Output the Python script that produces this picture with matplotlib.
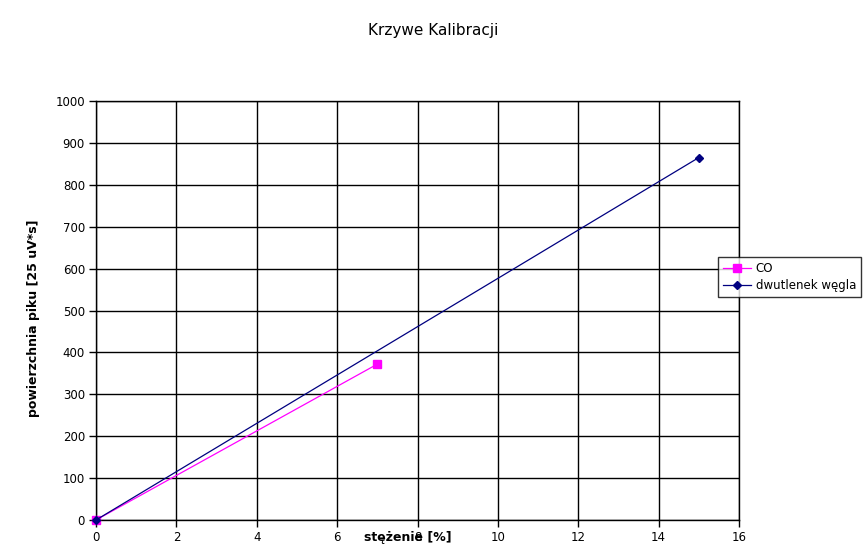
import matplotlib
matplotlib.use("Agg")
import matplotlib.pyplot as plt

co_x = [0, 7]
co_y = [0, 372]
co2_x = [0, 15]
co2_y = [0, 865]
x_ticks = [0, 2, 4, 6, 8, 10, 12, 14, 16]
y_ticks = [0, 100, 200, 300, 400, 500, 600, 700, 800, 900, 1000]

fig = plt.figure(figsize=(8.67, 5.48), dpi=100)
ax = fig.add_axes([96/867, 1-520/548, (739-96)/867, (520-101)/548])

ax.plot(co_x, co_y, color='#FF00FF', lw=0.9, marker='s', ms=6, mec='#FF00FF', mfc='#FF00FF', label='CO', clip_on=False, zorder=3)
ax.plot(co2_x, co2_y, color='#000080', lw=0.9, marker='D', ms=4.5, mec='#000080', mfc='#000080', label='dwutlenek węgla', clip_on=False, zorder=3)

ax.set_xlim(0, 16)
ax.set_ylim(0, 1000)
ax.set_xticks(x_ticks)
ax.set_yticks(y_ticks)
ax.set_xticklabels([str(t) for t in x_ticks], fontsize=8.5)
ax.set_yticklabels([str(t) for t in y_ticks], fontsize=8.5)
ax.grid(True, color='black', lw=1)
ax.set_axisbelow(True)
ax.tick_params(direction='out', length=5, width=1, color='black', pad=3)
for s in ax.spines.values():
    s.set_color('black')
    s.set_linewidth(1)

fig.text(433/867, 1-31/548, 'Krzywe Kalibracji', ha='center', va='center', fontsize=11)
fig.text(408/867, 1-537/548, 'stężenie [%]', ha='center', va='center', fontsize=9, fontweight='bold')
fig.text(34/867, 1-318/548, 'powierzchnia piku [25 uV*s]', ha='center', va='center', fontsize=9, fontweight='bold', rotation=90)

leg = fig.legend(loc='center left', bbox_to_anchor=(718/867, 1-277/548), fontsize=8.5,
                 frameon=True, fancybox=False, shadow=False, borderpad=0.4, borderaxespad=0,
                 handlelength=2.4, labelspacing=0.35, handletextpad=0.4)
leg.get_frame().set_edgecolor('black')
leg.get_frame().set_linewidth(1)

fig.savefig('out.png', dpi=100)
